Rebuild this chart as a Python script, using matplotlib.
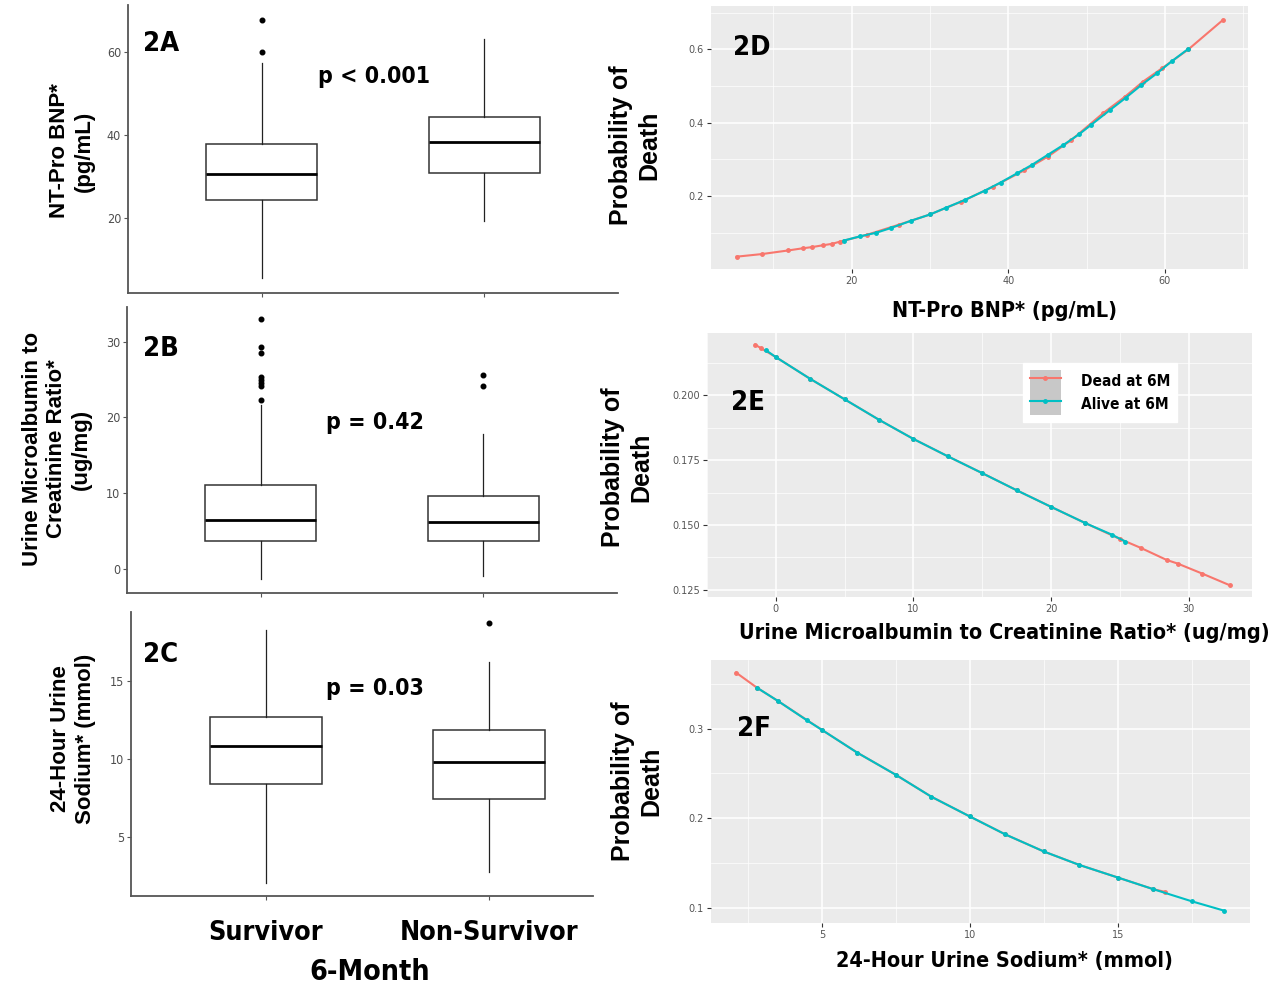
import matplotlib
matplotlib.use("Agg")
import matplotlib.pyplot as plt
from matplotlib import font_manager as fm
from matplotlib.lines import Line2D
from matplotlib.patches import Patch
from matplotlib.legend_handler import HandlerTuple

# ---------------- data ----------------
groups = ["Survivor", "Non-Survivor"]

# 2A NT-Pro BNP boxplots
bnp_q1 = [24.3, 30.8]
bnp_med = [30.6, 38.3]
bnp_q3 = [37.8, 44.3]
bnp_lo = [5.5, 19.3]
bnp_hi = [57.3, 63.1]
bnp_out = [[59.8, 67.6], []]

# 2B Urine microalbumin / creatinine
uacr_q1 = [3.7, 3.7]
uacr_med = [6.4, 6.2]
uacr_q3 = [11.0, 9.65]
uacr_lo = [-1.4, -0.97]
uacr_hi = [21.6, 17.8]
uacr_out = [[22.3, 24.1, 24.5, 24.9, 25.3, 28.5, 29.3, 33.0], [24.1, 25.6]]

# 2C 24-hour urine sodium
na_q1 = [8.45, 7.45]
na_med = [10.86, 9.8]
na_q3 = [12.72, 11.9]
na_lo = [2.1, 2.8]
na_hi = [18.3, 16.2]
na_out = [[], [18.7]]

p_values = ["p < 0.001", "p = 0.42", "p = 0.03"]

# 2D probability of death vs NT-Pro BNP
d_dead_x = [5.3, 8.5, 11.9, 13.8, 14.9, 16.3, 17.5, 18.5, 22, 26, 30, 34, 38, 42, 45, 48, 52.1, 54.9, 57.2, 59.6, 63, 67.4]
d_dead_y = [0.035, 0.042, 0.052, 0.058, 0.061, 0.066, 0.070, 0.076, 0.095, 0.122, 0.150, 0.185, 0.225, 0.270,
            0.307, 0.352, 0.426, 0.471, 0.512, 0.548, 0.600, 0.680]
d_alive_x = [19, 21, 23.1, 25, 27.6, 30, 32, 34.5, 37, 39, 41.1, 43, 45, 47, 49, 50.5, 53, 55, 57, 59, 60.9, 62.9]
d_alive_y = [0.079, 0.090, 0.100, 0.113, 0.133, 0.150, 0.168, 0.190, 0.215, 0.237, 0.262, 0.285, 0.312, 0.339,
             0.368, 0.393, 0.435, 0.468, 0.503, 0.535, 0.568, 0.600]

# 2E probability of death vs UACR
e_dead_x = [-1.5, -1.1, 0, 2.5, 5, 7.5, 10, 12.5, 15, 17.5, 20, 22.5, 25, 26.5, 28.4, 29.2, 31, 33]
e_dead_y = [0.2196, 0.2183, 0.2148, 0.2064, 0.1985, 0.1906, 0.1832, 0.1765, 0.1700, 0.1634, 0.1570, 0.1507,
            0.1446, 0.1412, 0.1365, 0.1351, 0.1312, 0.1267]
e_alive_x = [-0.7, 0, 2.5, 5, 7.5, 10, 12.5, 15, 17.5, 20, 22.5, 24.4, 25.4]
e_alive_y = [0.2174, 0.2148, 0.2064, 0.1985, 0.1906, 0.1832, 0.1765, 0.1700, 0.1634, 0.1570, 0.1507, 0.1463, 0.1436]

# 2F probability of death vs urine sodium
f_dead_x = [2.1, 2.8, 3.5, 5, 6.2, 7.5, 8.7, 10, 11.2, 12.5, 13.7, 15, 16.2, 16.6]
f_dead_y = [0.3623, 0.3456, 0.331, 0.2985, 0.273, 0.2484, 0.224, 0.202, 0.182, 0.163, 0.148, 0.134, 0.121, 0.118]
f_alive_x = [2.8, 3.5, 4.5, 5, 6.2, 7.5, 8.7, 10, 11.2, 12.5, 13.7, 15, 16.2, 17.5, 18.6]
f_alive_y = [0.3456, 0.331, 0.309, 0.2985, 0.273, 0.2484, 0.224, 0.202, 0.182, 0.163, 0.148, 0.134, 0.121,
             0.1075, 0.097]

legend_labels = ["Dead at 6M", "Alive at 6M"]
RED = "#F8766D"
TEAL = "#00BFC4"

# ---------------- fonts ----------------
names = {f.name for f in fm.fontManager.ttflist}
NARROW = "Liberation Sans Narrow" if "Liberation Sans Narrow" in names else "DejaVu Sans"
NSTRETCH = "normal" if NARROW == "Liberation Sans Narrow" else "condensed"
SCALE = 1.0 if NARROW == "Liberation Sans Narrow" else 0.79
WIDE = "Liberation Sans" if "Liberation Sans" in names else "DejaVu Sans"

W, H = 1280, 989
fig = plt.figure(figsize=(W / 100, H / 100), dpi=100)
fig.patch.set_facecolor("white")


def add_ax(x0, y0, x1, y1):
    return fig.add_axes([x0 / W, 1 - y1 / H, (x1 - x0) / W, (y1 - y0) / H])


def ftext(x, y, s, **kw):
    return fig.text(x / W, 1 - y / H, s, **kw)


def narrow(size):
    return dict(family=[NARROW, "DejaVu Sans"], fontstretch=NSTRETCH, fontweight="bold", fontsize=size * SCALE)


# ---------------- box plot panels ----------------
box_specs = [
    ((128, 5, 618, 293), (0.4, 2.6), (1.9, 71.2), [20, 40, 60],
     (bnp_q1, bnp_med, bnp_q3, bnp_lo, bnp_hi, bnp_out), "2A", (143, 44), p_values[0], (318, 77)),
    ((127, 307, 617, 593), (0.4, 2.6), (-3.24, 34.6), [0, 10, 20, 30],
     (uacr_q1, uacr_med, uacr_q3, uacr_lo, uacr_hi, uacr_out), "2B", (143, 349), p_values[1], (326, 423)),
    ((131, 612, 593, 896), (0.395, 2.466), (1.25, 19.43), [5, 10, 15],
     (na_q1, na_med, na_q3, na_lo, na_hi, na_out), "2C", (143, 655), p_values[2], (326, 688)),
]
box_axes = []
for rect, xl, yl, yt, (q1, med, q3, lo, hi, out), tag, tpos, ptxt, ppos in box_specs:
    ax = add_ax(*rect)
    stats = [dict(q1=q1[i], med=med[i], q3=q3[i], whislo=lo[i], whishi=hi[i], fliers=out[i]) for i in range(2)]
    ax.bxp(stats, positions=[1, 2], widths=0.5, showcaps=False, patch_artist=True,
           boxprops=dict(facecolor="white", edgecolor="#333333", linewidth=1.1),
           medianprops=dict(color="black", linewidth=2.0),
           whiskerprops=dict(color="#222222", linewidth=0.9),
           flierprops=dict(marker="o", markerfacecolor="black", markeredgecolor="black", markersize=3.3))
    ax.set_xlim(*xl)
    ax.set_ylim(*yl)
    ax.set_yticks(yt)
    ax.set_xticks([1, 2])
    ax.set_xticklabels(["", ""])
    for s in ("top", "right"):
        ax.spines[s].set_visible(False)
    for s in ("left", "bottom"):
        ax.spines[s].set_color("#555555")
        ax.spines[s].set_linewidth(1.3)
    ax.tick_params(length=3, width=0.8, color="#555555", labelcolor="#4d4d4d", labelsize=9, pad=2)
    for lab in ax.get_yticklabels():
        lab.set_fontfamily([NARROW, "DejaVu Sans"])
        lab.set_fontstretch(NSTRETCH)
    box_axes.append(ax)
    ftext(tpos[0], tpos[1], tag, ha="left", va="center", **narrow(25))
    ftext(ppos[0], ppos[1], ptxt, ha="left", va="center", **narrow(21))

axC = box_axes[2]
axC.set_xticklabels(groups)
axC.tick_params(axis="x", pad=14)
for lab in axC.get_xticklabels():
    lab.set_fontfamily([NARROW, "DejaVu Sans"])
    lab.set_fontstretch(NSTRETCH)
    lab.set_fontweight("bold")
    lab.set_fontsize(24.5 * SCALE)
    lab.set_color("black")
ftext(370, 972, "6-Month", ha="center", va="center", **narrow(26))

# left y labels
ylab_kw = dict(family=[WIDE, "DejaVu Sans"], fontweight="bold", fontsize=16, rotation=90,
               ha="center", va="center", multialignment="center", linespacing=1.2)
ftext(72, 151, "NT-Pro BNP*\n(pg/mL)", **ylab_kw)
ftext(57, 449, "Urine Microalbumin to\nCreatinine Ratio*\n(ug/mg)", **ylab_kw)
ftext(73, 739, "24-Hour Urine\nSodium* (mmol)", **ylab_kw)

# ---------------- probability panels ----------------
prob_specs = [
    ((711, 6, 1248, 269), (2.03, 70.6), (0.0014, 0.718), [20, 40, 60], [10, 30, 50, 70],
     [0.2, 0.4, 0.6], [0.1, 0.3, 0.5, 0.7], ["0.2", "0.4", "0.6"],
     (d_dead_x, d_dead_y, d_alive_x, d_alive_y), "2D", (733, 48), "NT-Pro BNP* (pg/mL)", (1004, 311), (635, 145)),
    ((707, 333, 1252, 597), (-3.29, 34.6), (0.1222, 0.2241), [0, 10, 20, 30], [-5, 5, 15, 25],
     [0.125, 0.150, 0.175, 0.200], [0.1375, 0.1625, 0.1875, 0.2125], ["0.125", "0.150", "0.175", "0.200"],
     (e_dead_x, e_dead_y, e_alive_x, e_alive_y), "2E", (731, 403),
     "Urine Microalbumin to Creatinine Ratio* (ug/mg)", (1004, 633), (627, 467)),
    ((711, 660, 1250, 923), (1.25, 19.47), (0.0833, 0.3764), [5, 10, 15], [2.5, 7.5, 12.5, 17.5],
     [0.1, 0.2, 0.3], [0.15, 0.25, 0.35], ["0.1", "0.2", "0.3"],
     (f_dead_x, f_dead_y, f_alive_x, f_alive_y), "2F", (737, 729), "24-Hour Urine Sodium* (mmol)", (1004, 961),
     (637, 781)),
]
prob_axes = []
for (rect, xl, yl, xt, xmin, yt, ymin, ytl, (dx, dy, axx, ayy), tag, tpos, xlab, xlab_pos, ylab_pos) in prob_specs:
    ax = add_ax(*rect)
    ax.set_facecolor("#EBEBEB")
    ax.set_xlim(*xl)
    ax.set_ylim(*yl)
    ax.set_xticks(xt)
    ax.set_xticks(xmin, minor=True)
    ax.set_yticks(yt)
    ax.set_yticklabels(ytl)
    ax.set_yticks(ymin, minor=True)
    ax.grid(which="major", color="white", linewidth=1.1)
    ax.grid(which="minor", color="white", linewidth=0.5)
    ax.set_axisbelow(True)
    for s in ax.spines.values():
        s.set_visible(False)
    ax.tick_params(which="major", length=3, width=0.8, color="#333333", labelcolor="#555555", labelsize=7, pad=2)
    ax.tick_params(which="minor", length=0)
    ax.plot(dx, dy, color=RED, linewidth=1.5, marker="o", markersize=2.5, zorder=3)
    ax.plot(axx, ayy, color=TEAL, linewidth=1.5, marker="o", markersize=2.5, zorder=4)
    prob_axes.append(ax)
    ftext(tpos[0], tpos[1], tag, ha="left", va="center", **narrow(25))
    ftext(xlab_pos[0], xlab_pos[1], xlab, ha="center", va="center", **narrow(19.6))
    ftext(ylab_pos[0], ylab_pos[1], "Probability of\nDeath", family=[WIDE, "DejaVu Sans"], fontweight="bold",
          fontsize=18, rotation=90, ha="center", va="center", multialignment="center", linespacing=1.2)

# legend in 2E
axE = prob_axes[1]
key_bg = "#C8C8C8"
handles = [
    (Patch(facecolor=key_bg, edgecolor="none"),
     Line2D([], [], color=RED, linewidth=1.5, marker="o", markersize=2.5)),
    (Patch(facecolor=key_bg, edgecolor="none"),
     Line2D([], [], color=TEAL, linewidth=1.5, marker="o", markersize=2.5)),
]
leg = axE.legend(handles, legend_labels, handler_map={tuple: HandlerTuple(ndivide=1)},
                 loc="upper left", bbox_to_anchor=(1023 / W, 1 - 363 / H), bbox_transform=fig.transFigure,
                 frameon=True, fancybox=False, framealpha=1, edgecolor="white", facecolor="white",
                 prop=dict(family=[NARROW, "DejaVu Sans"], stretch=NSTRETCH, weight="bold", size=14 * SCALE),
                 handlelength=2.0, handleheight=1.9, labelspacing=0.0, handletextpad=1.3,
                 borderpad=0.45, borderaxespad=0)

fig.savefig("out.png", dpi=100, facecolor="white")
